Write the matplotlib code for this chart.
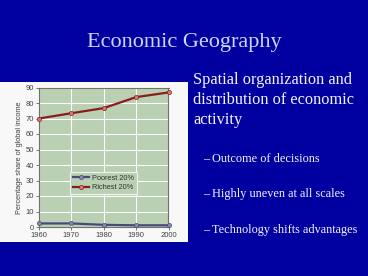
import matplotlib
matplotlib.use("Agg")
import matplotlib.pyplot as plt
from matplotlib.patches import Rectangle

years = [1960, 1970, 1980, 1990, 2000]
poorest = [2.3, 2.3, 1.4, 1.1, 1.1]
richest = [70.0, 73.4, 76.7, 83.8, 86.8]
yticks = [0, 10, 20, 30, 40, 50, 60, 70, 80, 90]
title = "Economic Geography"
main_text = ["Spatial organization and", "distribution of economic", "activity"]
bullets = ["Outcome of decisions", "Highly uneven at all scales", "Technology shifts advantages"]

plt.rcParams['font.family'] = ['Liberation Sans', 'DejaVu Sans']

W, H = 368, 276
fig = plt.figure(figsize=(W / 100, H / 100), dpi=100)
fig.patch.set_facecolor("#0000a0")

# white panel behind chart
panel = Rectangle((0, 1 - 242 / H), 188 / W, (242 - 82) / H,
                  transform=fig.transFigure, facecolor="#f8f8f8",
                  edgecolor="none", zorder=-5)
fig.add_artist(panel)

ax = fig.add_axes([39 / W, 1 - 227 / H, (168.5 - 39) / W, (227 - 87.5) / H])
ax.set_zorder(2)
ax.set_facecolor("#b9d0b3")
ax.plot(years, poorest, color="#4a4a7a", lw=1.6, marker="o", ms=3,
        mfc="#8a8aa8", mec="#4a4a7a", mew=0.5, label="Poorest 20%", clip_on=False, zorder=3)
ax.plot(years, richest, color="#8b1c1c", lw=1.6, marker="o", ms=3,
        mfc="#d08070", mec="#8b1c1c", mew=0.5, label="Richest 20%", clip_on=False, zorder=3)
ax.set_xlim(1960, 2000)
ax.set_ylim(0, 90)
ax.set_xticks(years)
ax.set_yticks(yticks)
ax.grid(True, color="white", lw=0.8)
ax.set_axisbelow(True)
for s in ax.spines.values():
    s.set_color("#707070")
    s.set_linewidth(0.8)
ax.tick_params(labelsize=5.5, colors="#404040", length=2, width=0.5, pad=1.5)
ax.set_ylabel("Percentage share of global income", fontsize=5.3, color="#404040", labelpad=2)
leg = ax.legend(loc="center", bbox_to_anchor=(0.497, 0.315), fontsize=5.3, frameon=True,
                facecolor="#b9d0b3", edgecolor="#f2f2f2", handlelength=2.2,
                handletextpad=0.4, borderpad=0.35, labelspacing=0.35, fancybox=False)
leg.get_frame().set_linewidth(0.8)
leg.get_frame().set_alpha(1)
for t in leg.get_texts():
    t.set_color("#303030")

serif = ["Liberation Serif", "DejaVu Serif"]
fig.text(184 / W, 1 - 42 / H, title, ha="center", va="center",
         fontsize=16, color="#c8d8ff", family=serif)
for i, line in enumerate(main_text):
    fig.text(193 / W, 1 - (80 + 20 * i) / H, line, ha="left", va="center",
             fontsize=11.8, color="#f4f4ff", family=serif)
for i, b in enumerate(bullets):
    y = 1 - (159 + 35.5 * i) / H
    fig.text(203 / W, y, "\u2013", ha="left", va="center", fontsize=8.8,
             color="#f4f4ff", family=serif)
    fig.text(212 / W, y, b, ha="left", va="center", fontsize=8.8,
             color="#f4f4ff", family=serif)

fig.savefig("out.png", dpi=100, facecolor=fig.get_facecolor())
